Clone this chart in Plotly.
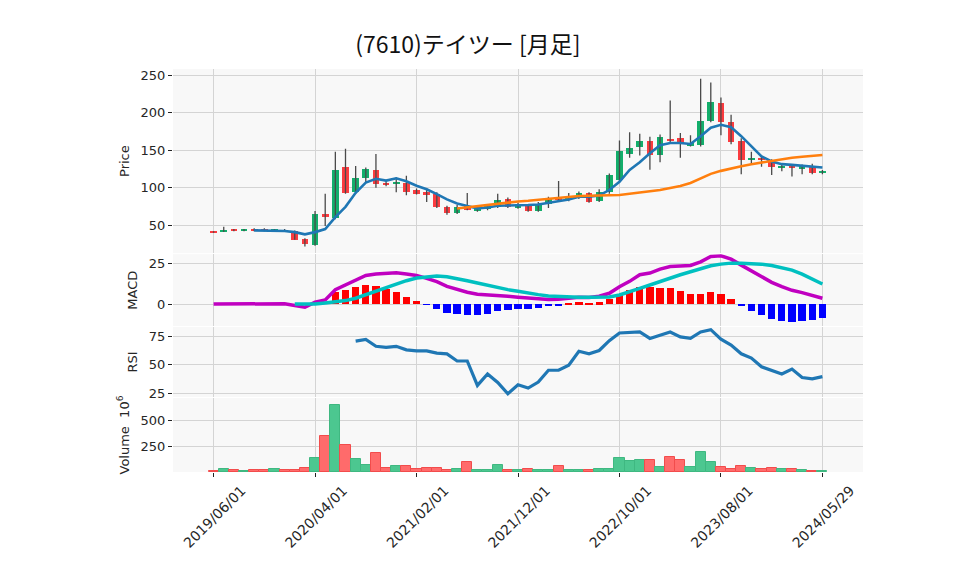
import plotly.graph_objects as go
from plotly.subplots import make_subplots

# ---------------- data ----------------
dates = ["2019/06/01", "2019/07/01", "2019/08/01", "2019/09/01", "2019/10/01", "2019/11/01", "2019/12/01",
         "2020/01/01", "2020/02/01", "2020/03/01", "2020/04/01", "2020/05/01", "2020/06/01", "2020/07/01",
         "2020/08/01", "2020/09/01", "2020/10/01", "2020/11/01", "2020/12/01", "2021/01/01", "2021/02/01",
         "2021/03/01", "2021/04/01", "2021/05/01", "2021/06/01", "2021/07/01", "2021/08/01", "2021/09/01",
         "2021/10/01", "2021/11/01", "2021/12/01", "2022/01/01", "2022/02/01", "2022/03/01", "2022/04/01",
         "2022/05/01", "2022/06/01", "2022/07/01", "2022/08/01", "2022/09/01", "2022/10/01", "2022/11/01",
         "2022/12/01", "2023/01/01", "2023/02/01", "2023/03/01", "2023/04/01", "2023/05/01", "2023/06/01",
         "2023/07/01", "2023/08/01", "2023/09/01", "2023/10/01", "2023/11/01", "2023/12/01", "2024/01/01",
         "2024/02/01", "2024/03/01", "2024/04/01", "2024/05/01", "2024/05/29"]

tick_labels = ["2019/06/01", "2020/04/01", "2021/02/01", "2021/12/01", "2022/10/01", "2023/08/01", "2024/05/29"]

open_ = [41.5, 41.5, 44, 42.5, 44, 43.5, 43, 44, 42, 32.5,
         24, 65, 60, 127, 95, 113.5, 124, 106, 104.5, 107,
         97, 95, 92, 74, 67, 76, 69, 72, 75, 85,
         73, 75.5, 69, 78, 88, 83.5, 87, 92.5, 83, 95,
         111, 145, 154, 162, 143.5, 165, 166, 156, 157, 189,
         213, 187, 162, 138, 139, 137, 127, 128, 126, 128, 119]
high = [42, 48, 45, 45, 46, 46, 45, 45, 43, 33,
        69, 92, 148, 152, 129, 127, 145, 110, 114, 116,
        99, 99, 94, 76, 77, 93, 77, 78, 92, 87,
        80, 77, 81, 88, 109, 93, 95, 94, 98, 119,
        163, 174, 172, 168, 171, 216, 173, 170, 245, 240,
        220, 197, 166, 148, 143, 138, 131, 128.5, 131, 132, 123.5]
low = [40, 41, 42, 42, 42, 42, 42, 41, 31, 22,
       23, 49, 58, 92, 92, 107, 100, 102, 94, 90,
       91, 81, 73, 64, 65, 70, 68, 70, 73, 73,
       72, 68, 68, 73, 81, 82, 85, 80, 81, 92,
       108, 140, 143, 124, 134, 159, 140, 155, 155, 187,
       170, 158, 118, 131, 128, 117, 122, 115, 118, 118, 118]
close = [41, 43, 42.5, 44, 43, 43, 43.5, 41.5, 31, 25.5,
         65, 61, 124, 93, 113.5, 124.5, 105, 105, 108, 95,
         92, 91, 74, 66, 74, 71, 74.5, 75.5, 83.5, 74,
         78, 68.5, 76.5, 85, 83.5, 89, 92.5, 80.5, 94, 117,
         148.5, 152.5, 162, 143, 167.5, 163, 160, 159, 188.5, 214,
         187.5, 161, 137, 140, 138, 127, 128, 127, 128.5, 119, 122.5]

volume = [13, 29, 23, 13, 23, 23, 29, 23, 23, 42,
          140, 351, 653, 263, 127, 68, 185, 39, 58, 58,
          29, 39, 39, 19, 29, 97, 19, 19, 68, 19,
          20, 30, 20, 20, 57, 20, 20, 20, 30, 30,
          140, 110, 120, 120, 50, 150, 120, 50, 190, 100,
          50, 30, 60, 40, 30, 40, 30, 30, 20, 10, 10]

ma_short = [None] * 4 + [43.3, 43.3, 43.3, 42.4, 41, 38, 41, 45, 61, 74.6,
                         93.4, 107, 112, 109.5, 112.6, 108.6, 102.8, 98, 91.6, 84.5,
                         79, 75.5, 72.4, 73.7, 76, 76.4, 76.4, 77, 77.7, 80,
                         81.8, 84.5, 88, 88, 89.8, 97, 108, 123.8, 134, 146,
                         156.5, 159.6, 159.6, 158.3, 168.6, 179.8, 183.8, 180.6, 168.6, 155,
                         141.7, 135, 131.4, 130.5, 129.6, 127.9, 127]
ma_long = [None] * 24 + [72.4, 74, 75.5, 77.3, 79, 80.4, 81.8, 82.7, 84, 85,
                         86.2, 87.6, 89, 89.4, 89.4, 89.4, 90.3, 92, 93.6, 94.7,
                         97, 99.7, 102.3, 106.4, 112.2, 118.5, 122.5, 126, 128.7, 131.4,
                         133.7, 135.9, 138, 140, 141.3, 142.6, 143.5]

macd = [0.3, 0.4, 0.5, 0.6, 0.7, 0.8, 0.8, 0.5, -0.5, -1.6, 1.5, 2.8,
        9, 11.8, 14.8, 17.6, 18.4, 18.8, 19.2, 18.4, 17.6, 15.8, 13.8, 11, 9, 7.4, 6.2, 5.8, 5.8, 5, 4.4,
        3.8, 3.2, 3, 3.2, 3.8, 4.4, 4.2, 5, 6.8, 10.8, 14, 18, 19, 21.4, 23, 23.4, 23.6, 25.8, 29, 29.4,
        27.4, 23.8, 20.4, 17, 13.4, 10.8, 8.6, 7.2, 5.4, 3.8]
signal = [None] * 8 + [0.4, 0.4, 0.4, 1, 1.6, 2.4, 3.8, 6, 8, 10.2, 12.4, 14.4, 16, 16.8, 17.2, 16.8,
                       15.8, 14.4, 13, 11.6, 10.4, 9, 8,
                       6.8, 6, 5.2, 4.8, 4.6, 4.4, 4.4, 4.4, 4.6, 5.8, 7.6, 9.8, 11.8, 14, 16, 18,
                       19.8, 21.8, 23.4, 24.4, 25, 25, 24.8, 24.4, 23.6, 22.4, 20.8, 18.4, 15.4, 12.4]
hist = [None] * 12 + [7.4, 8.4, 10.4, 11.6, 10.8, 9, 7.2, 4.2, 1.8, -0.2, -2.8, -5.2, -5.8, -6.4, -6.4,
                      -5.6, -4, -3.2, -2.8,
                      -2.8, -2.0, -1.2, -0.4, 0.8, 1.2, 0.6, 1.2, 3.2, 6.4, 8.4, 10.2, 10.4, 10, 9.6,
                      7.8, 6.2, 6.2, 7.2, 6.2, 3, -0.8, -4, -6.4, -8.8, -10, -10.6, -10, -9.4, -8.2]
rsi = [None] * 14 + [70.6, 72, 66, 65.1, 66, 62.9, 62, 62, 60, 59.4, 53.1, 53.1, 31.7, 41.7, 34.3, 24.3, 32.3,
                     29.4, 34.6, 45, 45, 49.4, 61.7, 59.4, 62.3, 70.9, 77.7, 78, 78.6, 72.9, 76, 78.6,
                     74.3, 72.9, 78.6, 80.6, 72.3, 67.1, 59.4, 55.7, 48, 45.1, 41.7, 46, 38.6, 37.4, 39.4]

# ---------------- styling ----------------
UP, DOWN = "#13ae6b", "#fb3b3f"
VUP, VDOWN = "#4cc790", "#ff6b6b"
VUP_E, VDOWN_E = "#3fb881", "#f24c4c"
GRID = "#d4d4d4"
BG = "#f8f8f8"
FONT = "DejaVu Sans"

up = [c >= o for o, c in zip(open_, close)]
body_base = [min(o, c) for o, c in zip(open_, close)]
body_h = [max(abs(c - o), 0.9) for o, c in zip(open_, close)]

fig = make_subplots(rows=4, cols=1, shared_xaxes=True, vertical_spacing=0.004)

# wicks
wx, wy = [], []
for d, h, l in zip(dates, high, low):
    wx += [d, d, None]
    wy += [l, h, None]
fig.add_trace(go.Scatter(x=wx, y=wy, mode="lines", line=dict(color="#4a4a4a", width=1.3),
                         hoverinfo="skip", showlegend=False), row=1, col=1)
# bodies
fig.add_trace(go.Bar(x=dates, y=body_h, base=body_base, width=0.66,
                     marker=dict(color=[UP if u else DOWN for u in up], line=dict(width=0)),
                     showlegend=False), row=1, col=1)
fig.add_trace(go.Scatter(x=dates, y=ma_short, mode="lines", line=dict(color="#1f77b4", width=2.6),
                         showlegend=False), row=1, col=1)
fig.add_trace(go.Scatter(x=dates, y=ma_long, mode="lines", line=dict(color="#ff7f0e", width=2.6),
                         showlegend=False), row=1, col=1)

# MACD
fig.add_trace(go.Bar(x=dates, y=hist, width=0.72,
                     marker=dict(color=["#ff0000" if (v is not None and v >= 0) else "#0000ff" for v in hist],
                                 line=dict(width=0)),
                     showlegend=False), row=2, col=1)
fig.add_trace(go.Scatter(x=dates, y=macd, mode="lines", line=dict(color="#c000c0", width=3.5),
                         showlegend=False), row=2, col=1)
fig.add_trace(go.Scatter(x=dates, y=signal, mode="lines", line=dict(color="#00c0c0", width=3.5),
                         showlegend=False), row=2, col=1)

# RSI
fig.add_trace(go.Scatter(x=dates, y=rsi, mode="lines", line=dict(color="#1f77b4", width=3.2),
                         showlegend=False), row=3, col=1)

# Volume
fig.add_trace(go.Bar(x=dates, y=volume, width=1.0,
                     marker=dict(color=[VUP if u else VDOWN for u in up],
                                 line=dict(color=[VUP_E if u else VDOWN_E for u in up], width=1)),
                     showlegend=False), row=4, col=1)

tickvals = [dates[i] for i in range(0, len(dates), 10)]

axis_common = dict(showgrid=True, gridcolor=GRID, gridwidth=1, zeroline=False,
                   showline=False, tickfont=dict(family=FONT, size=13, color="#262626"))

for r in range(1, 5):
    fig.update_xaxes(type="category", range=[-4, 64], tickmode="array", tickvals=tickvals,
                     ticktext=tick_labels, row=r, col=1, **axis_common)
fig.update_xaxes(showticklabels=False, ticks="", row=1, col=1)
fig.update_xaxes(showticklabels=False, ticks="", row=2, col=1)
fig.update_xaxes(showticklabels=False, ticks="", row=3, col=1)
fig.update_xaxes(showticklabels=True, ticks="outside", ticklen=4, tickcolor="#222", tickangle=-45,
                 ticklabelshift=28, ticklabelstandoff=0,
                 tickfont=dict(family=FONT, size=14, color="#262626"), row=4, col=1)

ytitle_font = dict(family=FONT, size=13, color="#262626")
fig.update_yaxes(domain=[0.543, 1.0], range=[13, 258], tickvals=[50, 100, 150, 200, 250],
                 ticks="outside", ticklen=4, tickcolor="#222",
                 title=dict(text="Price", font=ytitle_font, standoff=8), row=1, col=1, **axis_common)
fig.update_yaxes(domain=[0.362, 0.5405], range=[-13, 30.4], tickvals=[0, 25],
                 ticks="outside", ticklen=4, tickcolor="#222",
                 title=dict(text="MACD", font=ytitle_font, standoff=8), row=2, col=1, **axis_common)
fig.update_yaxes(domain=[0.186, 0.360], range=[21.5, 83], tickvals=[25, 50, 75],
                 ticks="outside", ticklen=4, tickcolor="#222",
                 title=dict(text="RSI", font=ytitle_font, standoff=8), row=3, col=1, **axis_common)
fig.update_yaxes(domain=[0.0, 0.1836], range=[0, 721], tickvals=[250, 500],
                 ticks="outside", ticklen=4, tickcolor="#222",
                 title=dict(text="Volume  10<sup>6</sup>", font=ytitle_font, standoff=8),
                 row=4, col=1, **axis_common)

fig.update_layout(
    width=958, height=575,
    margin=dict(l=165, r=103, t=61, b=111),
    paper_bgcolor="white", plot_bgcolor=BG,
    barmode="overlay", bargap=0,
    showlegend=False,
    title=dict(text="(7610)テイツー [月足]", x=0.480, xanchor="center", y=0.936, yanchor="middle",
               font=dict(family="Noto Sans CJK JP", size=23, color="#111")),
)

fig.write_html("out.html")
